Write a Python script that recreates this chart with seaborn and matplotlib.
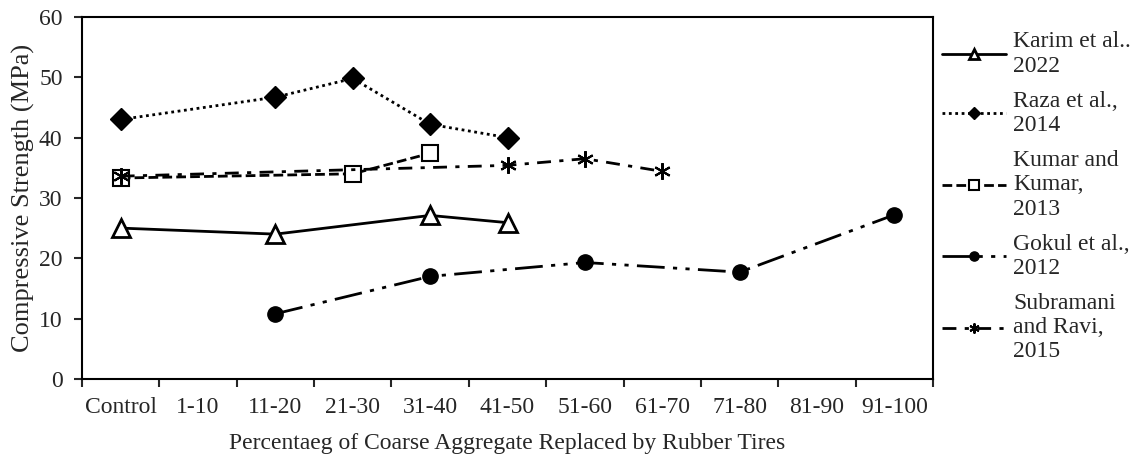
import numpy as np
import pandas as pd
import matplotlib
matplotlib.use("Agg")
import matplotlib.pyplot as plt
import seaborn as sns

nan = np.nan

# x categories (replacement level, %)
categories = ["Control", "1-10", "11-20", "21-30", "31-40", "41-50",
              "51-60", "61-70", "71-80", "81-90", "91-100"]

# compressive strength values (MPa), NaN = not reported
karim = [25.0, nan, 24.0, nan, 27.1, 25.9, nan, nan, nan, nan, nan]
raza = [43.0, nan, 46.7, 49.8, 42.2, 40.0, nan, nan, nan, nan, nan]
kumar = [33.3, nan, nan, 34.0, 37.4, nan, nan, nan, nan, nan, nan]
gokul = [nan, nan, 10.8, nan, 17.0, nan, 19.3, nan, 17.7, nan, 27.2]
subramani = [33.6, nan, nan, nan, nan, 35.4, 36.5, 34.4, nan, nan, nan]

labels = ["Karim et al..\n2022", "Raza et al.,\n2014", "Kumar and\nKumar,\n2013",
          "Gokul et al.,\n2012", "Subramani\nand Ravi,\n2015"]

sns.set_theme(style="ticks")
plt.rcParams['font.family'] = ['Liberation Serif', 'DejaVu Serif']
plt.rcParams['axes.linewidth'] = 1.5

fig = plt.figure(figsize=(11.3, 4.61), dpi=100)
ax = fig.add_axes([0.0726, 0.178, 0.7531, 0.7853])

styles = [
    dict(marker="^", ms=13, mfc="white", mew=2, linestyle="-"),
    dict(marker="D", ms=11, mfc="black", mew=1, linestyle=(0, (1, 1.3))),
    dict(marker="s", ms=11, mfc="white", mew=1.5, linestyle=(0, (3.5, 1.5))),
    dict(marker="o", ms=11, mfc="black", mew=1, linestyle=(0, (10, 3, 1.5, 3, 1.5, 3))),
    dict(marker=(6, 2, 0), ms=12, mfc="black", mew=1.5, linestyle=(0, (5, 3, 1.5, 3))),
]

x = np.arange(len(categories))
for vals, lab, st in zip([karim, raza, kumar, gokul, subramani], labels, styles):
    df = pd.DataFrame({"pos": x, "val": vals}).dropna()
    sns.lineplot(data=df, x="pos", y="val", ax=ax, color="black", lw=2,
                 label=lab, sort=False, mec="black", **st)

ax.set_xlim(-0.5, len(categories) - 0.5)
ax.set_ylim(0, 60)
ax.set_yticks(range(0, 61, 10))
ax.set_xticks(x)
ax.set_xticklabels(categories)
ax.set_xticks(np.arange(-0.5, len(categories), 1), minor=True)
ax.tick_params(axis="x", which="major", length=0, labelsize=17, pad=13)
ax.tick_params(axis="x", which="minor", length=6, width=1.5, direction="out")
ax.tick_params(axis="y", length=6, width=1.5, labelsize=17, direction="out", pad=8)
for s in ax.spines.values():
    s.set_color("black")
    s.set_linewidth(1.5)

ax.set_xlabel("Percentaeg of Coarse Aggregate Replaced by Rubber Tires", fontsize=17, labelpad=11)
ax.set_ylabel("Compressive Strength (MPa)", fontsize=19, labelpad=3)

ax.legend(loc="upper left", bbox_to_anchor=(1.011, 0.96), frameon=False,
          fontsize=17, handlelength=2.7, handletextpad=0.3, labelspacing=0.6,
          borderaxespad=0, borderpad=0, markerscale=0.6)

fig.savefig("out.png", dpi=100)
